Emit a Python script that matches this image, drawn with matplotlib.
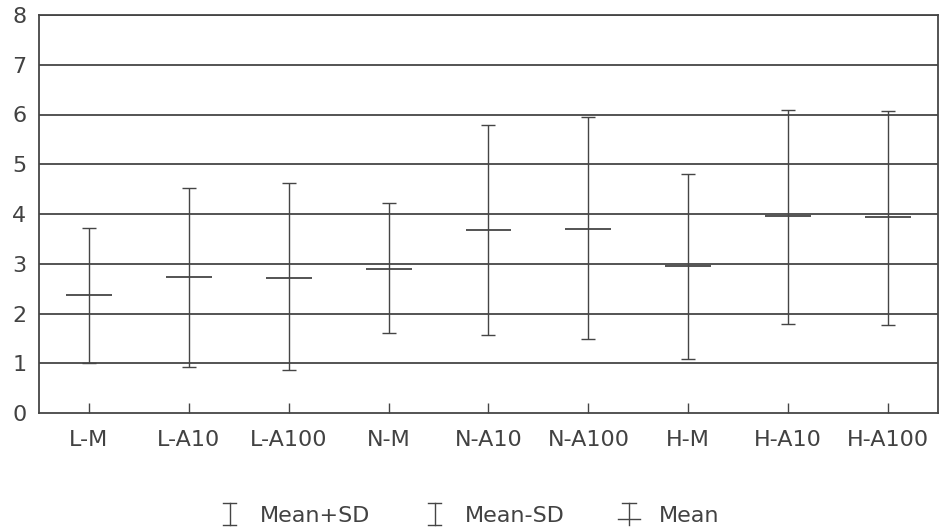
import numpy as np
import matplotlib
matplotlib.use("Agg")
import matplotlib.pyplot as plt
from matplotlib.lines import Line2D
from matplotlib.legend_handler import HandlerBase

plt.rcParams['font.family'] = ['DejaVu Sans']

# group labels and statistics
groups = ['L-M', 'L-A10', 'L-A100', 'N-M', 'N-A10', 'N-A100', 'H-M', 'H-A10', 'H-A100']
mean_sd_hi = [3.72, 4.53, 4.62, 4.22, 5.79, 5.94, 4.81, 6.10, 6.07]
means = [2.38, 2.73, 2.72, 2.90, 3.68, 3.70, 2.95, 3.95, 3.93]
mean_sd_lo = [1.00, 0.92, 0.86, 1.60, 1.57, 1.48, 1.08, 1.78, 1.76]

ink = '#454545'
text_col = '#424242'


class HandlerSymbol(HandlerBase):
    # draws an I-beam, optionally with a crossing bar for the mean
    def __init__(self, cross=False):
        super().__init__()
        self.cross = cross

    def create_artists(self, legend, orig_handle, xdescent, ydescent,
                       width, height, fontsize, trans):
        cx = width / 2 - xdescent
        y0 = -ydescent - 0.2 * height
        y1 = height - ydescent + 0.2 * height
        c = 0.25 * width
        arts = [Line2D([cx, cx], [y0, y1]),
                Line2D([cx - c, cx + c], [y1, y1])]
        if self.cross:
            ym = y0 + 0.3 * (y1 - y0)
            arts.append(Line2D([cx - 1.6 * c, cx + 1.6 * c], [ym, ym]))
        else:
            arts.append(Line2D([cx - c, cx + c], [y0, y0]))
        for a in arts:
            a.set_color(ink)
            a.set_linewidth(1.0)
            a.set_transform(trans)
        return arts


fig = plt.figure(figsize=(9.49, 5.32), dpi=100)
ax = fig.add_axes([39 / 949, 119 / 532, 899 / 949, 398 / 532])

x = np.arange(len(groups))
means_a = np.array(means)
hi = np.array(mean_sd_hi)
lo = np.array(mean_sd_lo)

for yv in range(1, 9):
    ax.axhline(yv, color=ink, lw=1.3, zorder=1)

ax.errorbar(x, means_a, yerr=[means_a - lo, hi - means_a], fmt='none',
            ecolor=ink, elinewidth=1.0, capsize=5, capthick=1.0, zorder=3)
ax.errorbar(x, means_a, xerr=0.23, fmt='none', ecolor=ink,
            elinewidth=1.3, capsize=0, zorder=3)

ax.set_xlim(-0.5, 8.5)
ax.set_ylim(0, 8)
ax.set_xticks(x)
ax.set_xticklabels(groups)
ax.set_yticks(range(0, 9))
ax.tick_params(axis='x', direction='in', length=7, width=1.0, color=ink,
               labelsize=16, labelcolor=text_col, pad=12)
ax.tick_params(axis='y', length=0, labelsize=16, labelcolor=text_col, pad=9)
for s in ax.spines.values():
    s.set_color(ink)
    s.set_linewidth(1.3)

h1 = Line2D([], [])
h2 = Line2D([], [])
h3 = Line2D([], [])
fig.legend([h1, h2, h3], ['Mean+SD', 'Mean-SD', 'Mean'],
           handler_map={h1: HandlerSymbol(), h2: HandlerSymbol(),
                        h3: HandlerSymbol(cross=True)},
           loc='center', bbox_to_anchor=(0.493, 0.03), ncol=3, frameon=False,
           fontsize=16, labelcolor=text_col, columnspacing=2.3,
           handlelength=1.2, handletextpad=0.75)

fig.savefig('out.png', dpi=100)
